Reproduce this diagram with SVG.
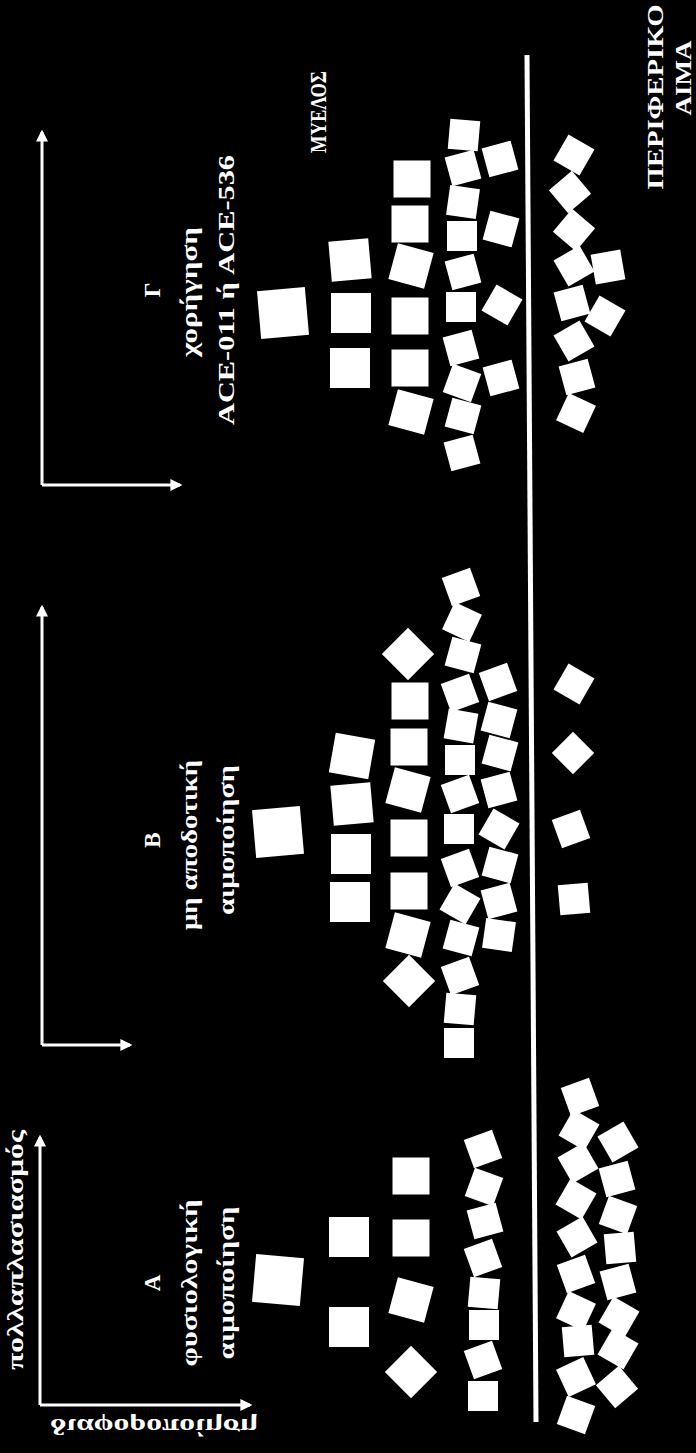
<svg xmlns="http://www.w3.org/2000/svg" width="696" height="1453" viewBox="0 0 696 1453">
<style>
.c{fill:#fff}
.ax{stroke:#fff;stroke-width:3;fill:none}
.t{fill:#fff;font-family:"Liberation Serif","DejaVu Serif",serif;font-weight:bold;font-size:23px;text-anchor:middle;dominant-baseline:central}
</style>
<defs>
<marker id="ah" viewBox="0 0 10 10" refX="8" refY="5" markerWidth="4" markerHeight="4" orient="auto"><path d="M0,0L10,5L0,10z" fill="#fff"/></marker>
<rect id="s30" x="-15" y="-15" width="30" height="30"/>
<rect id="s37" x="-18.5" y="-18.5" width="37" height="37"/>
<rect id="s40" x="-20" y="-20" width="40" height="40"/>
<rect id="s48" x="-24" y="-24" width="48" height="48"/>
</defs>
<rect width="696" height="1453" fill="#000"/>
<g id="connectors">
<path class="ax" d="M42,485V132" marker-end="url(#ah)"/>
<path class="ax" d="M42,485H180" marker-end="url(#ah)"/>
<path class="ax" d="M42,1045V607" marker-end="url(#ah)"/>
<path class="ax" d="M42,1045H130" marker-end="url(#ah)"/>
<path class="ax" d="M40,1405V1137" marker-end="url(#ah)"/>
<path class="ax" d="M40,1405H250" marker-end="url(#ah)"/>
<path d="M527,55L536,1422" stroke="#fff" stroke-width="5"/>
</g>
<g id="labels">
<text class="t" transform="translate(15,1250) rotate(-90)" textLength="240" lengthAdjust="spacingAndGlyphs">πολλαπλασιασμός</text>
<text class="t" transform="translate(154,1426) scale(1,-1)" textLength="208" lengthAdjust="spacingAndGlyphs">διαφοροποίηση</text>
<text class="t" transform="translate(152,1283) rotate(-90)">Α</text>
<text class="t" transform="translate(189,1283) rotate(-90)" textLength="167" lengthAdjust="spacingAndGlyphs">φυσιολογική</text>
<text class="t" transform="translate(226,1283) rotate(-90)" textLength="153" lengthAdjust="spacingAndGlyphs">αιμοποίηση</text>
<text class="t" transform="translate(152,840) rotate(-90)">Β</text>
<text class="t" transform="translate(189,845) rotate(-90)" textLength="170" lengthAdjust="spacingAndGlyphs">μη αποδοτική</text>
<text class="t" transform="translate(226,840) rotate(-90)" textLength="150" lengthAdjust="spacingAndGlyphs">αιμοποίηση</text>
<text class="t" transform="translate(152,290) rotate(-90)">Γ</text>
<text class="t" transform="translate(189,292) rotate(-90)" textLength="130" lengthAdjust="spacingAndGlyphs">χορήγηση</text>
<text class="t" transform="translate(226,290) rotate(-90)" textLength="270" lengthAdjust="spacingAndGlyphs">ACE-011 ή ACE-536</text>
<text class="t" transform="translate(318,112) rotate(-90)" textLength="82" lengthAdjust="spacingAndGlyphs">ΜΥΕΛΟΣ</text>
<text class="t" transform="translate(655,97) rotate(-90)" textLength="185" lengthAdjust="spacingAndGlyphs">ΠΕΡΙΦΕΡΙΚΟ</text>
<text class="t" transform="translate(683,78) rotate(-90)" textLength="75" lengthAdjust="spacingAndGlyphs">ΑΙΜΑ</text>
</g>
<g id="marrowG" class="c">
<use href="#s48" transform="translate(283,313) rotate(-5)"/>
<use href="#s40" transform="translate(350,260) rotate(-5)"/>
<use href="#s40" transform="translate(351,313)"/>
<use href="#s40" transform="translate(350,368)"/>
<use href="#s37" transform="translate(412,179)"/>
<use href="#s37" transform="translate(410,224)"/>
<use href="#s37" transform="translate(411,266) rotate(15)"/>
<use href="#s37" transform="translate(410,316)"/>
<use href="#s37" transform="translate(410,368)"/>
<use href="#s37" transform="translate(411,412) rotate(15)"/>
<use href="#s30" transform="translate(464,135) rotate(5)"/>
<use href="#s30" transform="translate(463,168) rotate(-15)"/>
<use href="#s30" transform="translate(463,202) rotate(8)"/>
<use href="#s30" transform="translate(462,236)"/>
<use href="#s30" transform="translate(463,272) rotate(-15)"/>
<use href="#s30" transform="translate(461,307)"/>
<use href="#s30" transform="translate(461,348) rotate(-15)"/>
<use href="#s30" transform="translate(462,383) rotate(20)"/>
<use href="#s30" transform="translate(463,416) rotate(15)"/>
<use href="#s30" transform="translate(462,453) rotate(-15)"/>
<use href="#s30" transform="translate(500,159) rotate(-15)"/>
<use href="#s30" transform="translate(501,229) rotate(15)"/>
<use href="#s30" transform="translate(502,305) rotate(30)"/>
<use href="#s30" transform="translate(501,378) rotate(-15)"/>
</g>
<g id="bloodG" class="c">
<use href="#s30" transform="translate(574,155) rotate(30)"/>
<use href="#s30" transform="translate(570,192) rotate(-40)"/>
<use href="#s30" transform="translate(574,230) rotate(40)"/>
<use href="#s30" transform="translate(574,266) rotate(-30)"/>
<use href="#s30" transform="translate(608,267) rotate(-10)"/>
<use href="#s30" transform="translate(572,303) rotate(-15)"/>
<use href="#s30" transform="translate(605,316) rotate(30)"/>
<use href="#s30" transform="translate(574,341) rotate(-30)"/>
<use href="#s30" transform="translate(577,377) rotate(-15)"/>
<use href="#s30" transform="translate(576,413) rotate(25)"/>
</g>
<g id="marrowB" class="c">
<use href="#s48" transform="translate(278,832) rotate(-5)"/>
<use href="#s40" transform="translate(352,756) rotate(10)"/>
<use href="#s40" transform="translate(352,804) rotate(-5)"/>
<use href="#s40" transform="translate(351,854)"/>
<use href="#s40" transform="translate(350,902)"/>
<use href="#s37" transform="translate(408,654) rotate(45)"/>
<use href="#s37" transform="translate(410,701)"/>
<use href="#s37" transform="translate(409,747)"/>
<use href="#s37" transform="translate(408,790) rotate(15)"/>
<use href="#s37" transform="translate(409,838)"/>
<use href="#s37" transform="translate(409,891)"/>
<use href="#s37" transform="translate(408,935) rotate(15)"/>
<use href="#s37" transform="translate(409,981) rotate(45)"/>
<use href="#s30" transform="translate(461,587) rotate(-20)"/>
<use href="#s30" transform="translate(462,622) rotate(25)"/>
<use href="#s30" transform="translate(463,655) rotate(15)"/>
<use href="#s30" transform="translate(460,693) rotate(-20)"/>
<use href="#s30" transform="translate(461,726) rotate(10)"/>
<use href="#s30" transform="translate(460,760)"/>
<use href="#s30" transform="translate(460,794) rotate(-20)"/>
<use href="#s30" transform="translate(459,829)"/>
<use href="#s30" transform="translate(460,868) rotate(-20)"/>
<use href="#s30" transform="translate(460,904) rotate(30)"/>
<use href="#s30" transform="translate(461,938) rotate(15)"/>
<use href="#s30" transform="translate(460,976) rotate(-20)"/>
<use href="#s30" transform="translate(460,1009) rotate(5)"/>
<use href="#s30" transform="translate(459,1043)"/>
<use href="#s30" transform="translate(498,682) rotate(-20)"/>
<use href="#s30" transform="translate(499,720) rotate(15)"/>
<use href="#s30" transform="translate(500,753) rotate(15)"/>
<use href="#s30" transform="translate(499,790) rotate(-15)"/>
<use href="#s30" transform="translate(499,829) rotate(30)"/>
<use href="#s30" transform="translate(500,865) rotate(15)"/>
<use href="#s30" transform="translate(499,901) rotate(-15)"/>
<use href="#s30" transform="translate(499,935) rotate(8)"/>
</g>
<g id="bloodB" class="c">
<use href="#s30" transform="translate(574,684) rotate(30)"/>
<use href="#s30" transform="translate(573,753) rotate(-45)"/>
<use href="#s30" transform="translate(571,829) rotate(-20)"/>
<use href="#s30" transform="translate(574,899) rotate(-5)"/>
</g>
<g id="marrowA" class="c">
<use href="#s48" transform="translate(278,1280) rotate(5)"/>
<use href="#s40" transform="translate(349,1237)"/>
<use href="#s40" transform="translate(349,1327)"/>
<use href="#s37" transform="translate(411,1176)"/>
<use href="#s37" transform="translate(411,1238)"/>
<use href="#s37" transform="translate(411,1300) rotate(15)"/>
<use href="#s37" transform="translate(411,1372) rotate(45)"/>
<use href="#s30" transform="translate(483,1149) rotate(-20)"/>
<use href="#s30" transform="translate(484,1187) rotate(20)"/>
<use href="#s30" transform="translate(485,1221) rotate(-15)"/>
<use href="#s30" transform="translate(483,1258) rotate(-20)"/>
<use href="#s30" transform="translate(484,1293) rotate(5)"/>
<use href="#s30" transform="translate(484,1325)"/>
<use href="#s30" transform="translate(483,1360) rotate(-20)"/>
<use href="#s30" transform="translate(483,1396)"/>
</g>
<g id="bloodA" class="c">
<use href="#s30" transform="translate(580,1097) rotate(-20)"/>
<use href="#s30" transform="translate(579,1130) rotate(30)"/>
<use href="#s30" transform="translate(578,1163) rotate(-30)"/>
<use href="#s30" transform="translate(576,1199) rotate(30)"/>
<use href="#s30" transform="translate(577,1237) rotate(-30)"/>
<use href="#s30" transform="translate(576,1274) rotate(-20)"/>
<use href="#s30" transform="translate(576,1311) rotate(25)"/>
<use href="#s30" transform="translate(578,1341) rotate(-5)"/>
<use href="#s30" transform="translate(576,1377) rotate(-25)"/>
<use href="#s30" transform="translate(576,1415) rotate(20)"/>
<use href="#s30" transform="translate(618,1142) rotate(-30)"/>
<use href="#s30" transform="translate(617,1179) rotate(-15)"/>
<use href="#s30" transform="translate(618,1215) rotate(20)"/>
<use href="#s30" transform="translate(620,1248) rotate(-5)"/>
<use href="#s30" transform="translate(618,1282) rotate(-15)"/>
<use href="#s30" transform="translate(619,1317) rotate(30)"/>
<use href="#s30" transform="translate(618,1349) rotate(30)"/>
<use href="#s30" transform="translate(617,1387) rotate(-40)"/>
</g>
</svg>
